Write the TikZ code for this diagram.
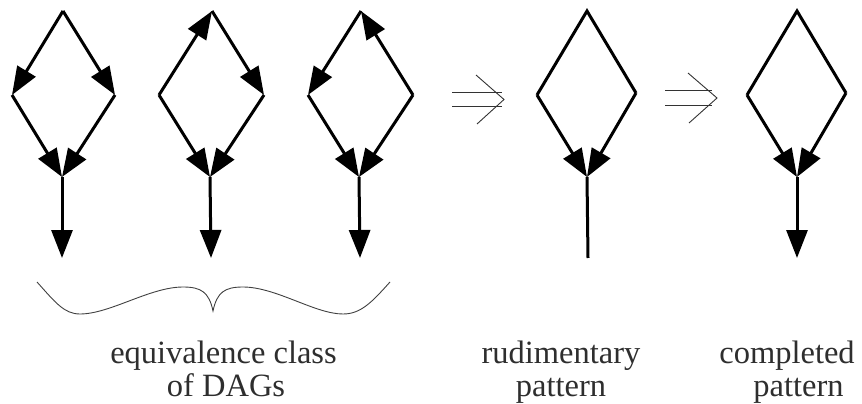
\documentclass[tikz,border=0pt]{standalone}
\usepackage{fontspec}
\setmainfont{Liberation Serif}
\newfontfamily\tms{Liberation Serif}
\usetikzlibrary{arrows.meta}
\tikzset{
  edge/.style={line width=3pt, draw=black},
  dirr/.style={edge, -{Triangle[length=28pt 0 0,width=21pt 0 0]}},
  thin arrow/.style={line width=0.9pt, draw=black!80},
  lbl/.style={anchor=base, inner sep=0pt, font=\tms\fontsize{32.5pt}{34pt}\selectfont, text=black!82},
  brace/.style={line width=0.9pt, draw=black!75},
}
\begin{document}
\begin{tikzpicture}[x=1pt,y=-1pt]
\useasboundingbox (0,0) rectangle (862,404);
% DAG 1
\coordinate (a1) at (63,11);
\coordinate (l1) at (12,95);
\coordinate (r1) at (115,95);
\coordinate (b1) at (62,177);
\coordinate (t1) at (62,258);
\draw[dirr] (a1) -- (l1);
\draw[dirr] (a1) -- (r1);
\draw[dirr] (l1) -- (b1);
\draw[dirr] (r1) -- (b1);
\draw[dirr] (b1) -- (t1);
% DAG 2
\coordinate (a2) at (212,11);
\coordinate (l2) at (159,95);
\coordinate (r2) at (264,95);
\coordinate (b2) at (210,177);
\coordinate (t2) at (211,258);
\draw[dirr] (l2) -- (a2);
\draw[dirr] (a2) -- (r2);
\draw[dirr] (l2) -- (b2);
\draw[dirr] (r2) -- (b2);
\draw[dirr] (b2) -- (t2);
% DAG 3
\coordinate (a3) at (361,11);
\coordinate (l3) at (308,95);
\coordinate (r3) at (413,95);
\coordinate (b3) at (359,177);
\coordinate (t3) at (360,258);
\draw[dirr] (a3) -- (l3);
\draw[dirr] (r3) -- (a3);
\draw[dirr] (l3) -- (b3);
\draw[dirr] (r3) -- (b3);
\draw[dirr] (b3) -- (t3);
% rudimentary pattern
\coordinate (a4) at (587,11);
\coordinate (l4) at (537,95);
\coordinate (r4) at (636,93);
\coordinate (b4) at (587,177);
\coordinate (t4) at (588,258);
\draw[edge] (l4) -- (a4) -- (r4);
\draw[dirr] (l4) -- (b4);
\draw[dirr] (r4) -- (b4);
\draw[edge] (b4) -- (t4);
% completed pattern
\coordinate (a5) at (797,11);
\coordinate (l5) at (747,95);
\coordinate (r5) at (846,93);
\coordinate (b5) at (797,177);
\coordinate (t5) at (797,258);
\draw[edge] (l5) -- (a5) -- (r5);
\draw[dirr] (l5) -- (b5);
\draw[dirr] (r5) -- (b5);
\draw[dirr] (b5) -- (t5);
% implication arrows
\coordinate (i1a) at (452,92.3);
\coordinate (i1b) at (502,92.3);
\coordinate (i1c) at (452,106.7);
\coordinate (i1d) at (502,106.7);
\coordinate (i1u) at (476,75);
\coordinate (i1t) at (504,99.5);
\coordinate (i1l) at (477,124);
\draw[thin arrow] (i1a) -- (i1b);
\draw[thin arrow] (i1c) -- (i1d);
\draw[thin arrow] (i1u) -- (i1t) -- (i1l);
\coordinate (i2a) at (665,90);
\coordinate (i2b) at (712,90);
\coordinate (i2c) at (665,105);
\coordinate (i2d) at (712,105);
\coordinate (i2u) at (688,73);
\coordinate (i2t) at (717,98);
\coordinate (i2l) at (689,123);
\draw[thin arrow] (i2a) -- (i2b);
\draw[thin arrow] (i2c) -- (i2d);
\draw[thin arrow] (i2u) -- (i2t) -- (i2l);
% brace
\coordinate (br0) at (37,282);
\coordinate (br1) at (80,314);
\coordinate (br2) at (183,287);
\coordinate (br3) at (213,311);
\coordinate (br4) at (243,287);
\coordinate (br5) at (343,314);
\coordinate (br6) at (390,282);
\draw[brace] (br0) .. controls (55,302) and (64,314) .. (br1)
  .. controls (110,314) and (150,287) .. (br2)
  .. controls (201,287) and (209,292) .. (br3)
  .. controls (217,292) and (225,287) .. (br4)
  .. controls (276,287) and (315,314) .. (br5)
  .. controls (361,314) and (372,302) .. (br6);
% labels
\node[lbl] (lab1a) at (223.5,363) {equivalence class};
\node[lbl] (lab1b) at (226,396.7) {of DAGs};
\node[lbl] (lab2a) at (561,363) {rudimentary};
\node[lbl] (lab2b) at (561,396.7) {pattern};
\node[lbl] (lab3a) at (787,363) {completed};
\node[lbl] (lab3b) at (798.5,396.7) {pattern};
\end{tikzpicture}
\end{document}
